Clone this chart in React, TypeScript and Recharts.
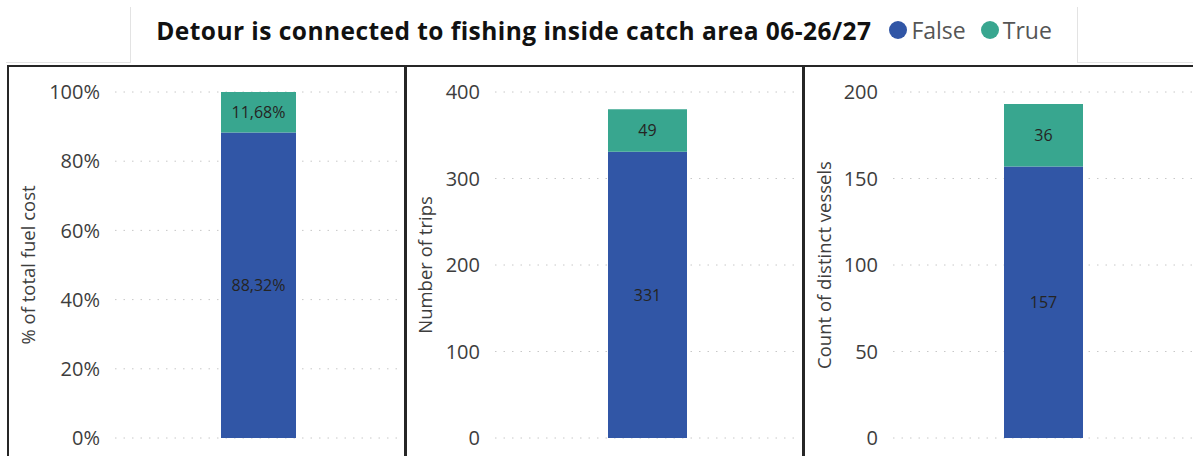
import { BarChart, Bar, XAxis, YAxis, CartesianGrid, LabelList } from 'recharts';

const categories = ['06-26/27'];
const fuelFalse = [0.8832];
const fuelTrue = [0.1168];
const tripsFalse = [331];
const tripsTrue = [49];
const vesselsFalse = [157];
const vesselsTrue = [36];
const fuelTicks = [0, 0.2, 0.4, 0.6, 0.8, 1];
const tripTicks = [0, 100, 200, 300, 400];
const vesselTicks = [0, 50, 100, 150, 200];

const BLUE = '#3156a6';
const TEAL = '#38a68f';
const FONT = "'Open Sans', 'Noto Sans', sans-serif";

type Row = { name: string; False: number; True: number };

const rows = (f: number[], t: number[]): Row[] =>
  categories.map((name, i) => ({ name, False: f[i], True: t[i] }));

const pct = (v: unknown) =>
  `${(Number(v) * 100).toFixed(2).replace('.', ',')}%`;

function Panel({
  data,
  ticks,
  yLabel,
  tickFmt,
  labelFmt,
  left,
  width,
  marginLeft,
  axisWidth,
  marginRight,
  barSize,
}: {
  data: Row[];
  ticks: number[];
  yLabel: string;
  tickFmt?: (v: number) => string;
  labelFmt?: (v: unknown) => string;
  left: number;
  width: number;
  marginLeft: number;
  axisWidth: number;
  marginRight: number;
  barSize: number;
}) {
  const labelStyle = { fill: '#252423', fontSize: 16, fontFamily: FONT };
  return (
    <div style={{ position: 'absolute', left, top: 65 }}>
      <BarChart
        width={width}
        height={391}
        data={data}
        margin={{ top: 27, right: marginRight, bottom: 18, left: marginLeft }}
        barSize={barSize}
      >
        <CartesianGrid
          vertical={false}
          stroke="#c8c8c8"
          strokeDasharray="1.5 7"
        />
        <XAxis dataKey="name" hide />
        <YAxis
          domain={[0, ticks[ticks.length - 1]]}
          ticks={ticks}
          width={axisWidth}
          axisLine={false}
          tickLine={false}
          tickSize={0}
          tickMargin={15}
          tickFormatter={tickFmt}
          tick={{ fill: '#3d3d3d', fontSize: 20, fontFamily: FONT }}
          label={{
            value: yLabel,
            angle: -90,
            position: 'insideLeft',
            offset: 18,
            style: {
              textAnchor: 'middle',
              fill: '#3d3d3d',
              fontSize: 18.5,
              fontFamily: FONT,
            },
          }}
        />
        <Bar dataKey="False" stackId="a" fill={BLUE} isAnimationActive={false}>
          <LabelList dataKey="False" position="center" formatter={labelFmt} style={labelStyle} />
        </Bar>
        <Bar dataKey="True" stackId="a" fill={TEAL} isAnimationActive={false}>
          <LabelList dataKey="True" position="center" formatter={labelFmt} style={labelStyle} />
        </Bar>
      </BarChart>
    </div>
  );
}

export default function App() {
  const line = '#e3e3e3';
  return (
    <div
      style={{
        position: 'absolute',
        left: 0,
        top: 0,
        width: 1193,
        height: 456,
        overflow: 'hidden',
        background: '#fff',
        fontFamily: FONT,
      }}
    >
      {/* header box */}
      <div style={{ position: 'absolute', left: 6, top: 62, width: 124, height: 1, background: line }} />
      <div style={{ position: 'absolute', left: 1077, top: 62, width: 116, height: 1, background: line }} />
      <div style={{ position: 'absolute', left: 130, top: 7, width: 1, height: 56, background: line }} />
      <div style={{ position: 'absolute', left: 1077, top: 7, width: 1, height: 56, background: line }} />
      <div
        style={{
          position: 'absolute',
          left: 131,
          top: 7,
          width: 946,
          height: 46,
          display: 'flex',
          alignItems: 'center',
          justifyContent: 'center',
          whiteSpace: 'nowrap',
        }}
      >
        <span style={{ fontWeight: 700, fontSize: 24.5, letterSpacing: 0.45, color: '#111' }}>
          Detour is connected to fishing inside catch area 06-26/27
        </span>
        <span style={{ display: 'inline-flex', alignItems: 'center', marginLeft: 18 }}>
          <span style={{ width: 18, height: 18, borderRadius: 9, background: BLUE, marginRight: 4 }} />
          <span style={{ fontSize: 23, color: '#555' }}>False</span>
          <span style={{ width: 18, height: 18, borderRadius: 9, background: TEAL, marginLeft: 15, marginRight: 4 }} />
          <span style={{ fontSize: 23, color: '#555' }}>True</span>
        </span>
      </div>

      {/* panel borders */}
      <div style={{ position: 'absolute', left: 7, top: 65, width: 396, height: 420, border: '2px solid #262626' }} />
      <div style={{ position: 'absolute', left: 404, top: 65, width: 397, height: 420, border: '2px solid #262626' }} />
      <div style={{ position: 'absolute', left: 802, top: 65, width: 420, height: 420, border: '2px solid #262626' }} />

      <Panel
        data={rows(fuelFalse, fuelTrue)}
        ticks={fuelTicks}
        yLabel="% of total fuel cost"
        tickFmt={(v) => `${Math.round(v * 100)}%`}
        labelFmt={pct}
        left={0}
        width={405}
        marginLeft={10}
        axisWidth={105}
        marginRight={4}
        barSize={75}
      />
      <Panel
        data={rows(tripsFalse, tripsTrue)}
        ticks={tripTicks}
        yLabel="Number of trips"
        left={405}
        width={398}
        marginLeft={2}
        axisWidth={88}
        marginRight={3}
        barSize={79}
      />
      <Panel
        data={rows(vesselsFalse, vesselsTrue)}
        ticks={vesselTicks}
        yLabel="Count of distinct vessels"
        left={803}
        width={390}
        marginLeft={3}
        axisWidth={87}
        marginRight={0}
        barSize={79}
      />
    </div>
  );
}
